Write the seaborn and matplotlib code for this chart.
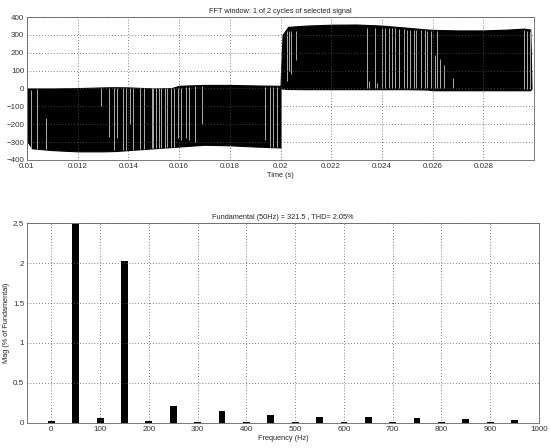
"""FFT analysis plot: switched waveform and harmonic spectrum."""

import matplotlib
matplotlib.use("Agg")
import matplotlib.pyplot as plt
import numpy as np
import seaborn as sns

# --- waveform envelope (time in s, volts) ---
env_t = [0.0100, 0.01003, 0.0102, 0.0110, 0.0120, 0.0130, 0.0135, 0.0140, 0.0150,
         0.0157, 0.0160, 0.0170, 0.0180, 0.0190, 0.0200, 0.0200, 0.02008, 0.0203,
         0.0210, 0.0220, 0.0230, 0.0240, 0.0250, 0.0258, 0.0260, 0.0270, 0.0280,
         0.0290, 0.0296, 0.02985, 0.02990]
env_upper = [0, 0, 0, 0, 2, 6, 7, 6, 0,
             2, 15, 20, 20, 17, 15, 15, 300, 345,
             352, 357, 358, 352, 340, 330, 328, 325, 325,
             330, 335, 330, 0]
env_lower = [-40, -300, -335, -345, -352, -352, -350, -345, -335,
             -328, -325, -315, -318, -325, -330, 0, 0, -3,
             -4, -4, -4, -4, -4, -6, -10, -10, -10,
             -10, -10, -10, 0]

# narrow pulses that show up as light gaps in the black band
gap_t = [0.01015, 0.01041, 0.01074, 0.01292, 0.01325, 0.01342, 0.01355, 0.01378,
         0.01391, 0.01408, 0.01417, 0.01444, 0.01463, 0.01494, 0.01499, 0.01510,
         0.01520, 0.01530, 0.01543, 0.01552, 0.01569, 0.01578, 0.01595, 0.01609,
         0.01626, 0.01639, 0.01661, 0.01692, 0.01939, 0.01958, 0.01971, 0.01985,
         0.02025, 0.02034, 0.02042, 0.02060, 0.02341, 0.02350, 0.02371, 0.02380,
         0.02400, 0.02414, 0.02427, 0.02440, 0.02453, 0.02469, 0.02486, 0.02497,
         0.02510, 0.02527, 0.02533, 0.02553, 0.02568, 0.02579, 0.02592, 0.02608,
         0.02619, 0.02629, 0.02645, 0.02682, 0.02959, 0.02972, 0.02985]
gap_lo = [-333, -338, -340, -100, -270, -345, -280, -345,
          -345, -200, -345, -340, -340, -335, -335, -335,
          -335, -335, -335, -330, -330, -330, -280, -290,
          -280, -290, -300, -200, -290, -325, -325, -325,
          40, 100, 80, 160, 0, 0, 0, 0,
          0, 0, 0, 0, 0, 0, 0, 0,
          0, 0, 0, 0, 0, 0, 0, 0,
          0, 0, 0, 0, -5, -5, -5]
gap_hi = [-7, -5, -166, 0, 0, 0, 0, 0,
          0, 0, 0, 0, 0, 0, 0, 0,
          0, 0, 0, 0, 0, 0, 0, 5,
          10, 10, 12, 15, 10, 10, 10, 10,
          320, 320, 320, 320, 340, 40, 340, 30,
          340, 340, 340, 340, 340, 335, 335, 330,
          330, 330, 330, 330, 330, 320, 320, 190,
          320, 165, 133, 60, 325, 320, 320]

# --- harmonic spectrum ---
freq_hz = [0, 50, 100, 150, 200, 250, 300, 350, 400, 450,
           500, 550, 600, 650, 700, 750, 800, 850, 900, 950]
mag_pct = [0.025, 100.0, 0.06, 2.03, 0.025, 0.21, 0.015, 0.145, 0.01, 0.095,
           0.01, 0.075, 0.01, 0.07, 0.015, 0.058, 0.008, 0.045, 0.008, 0.035]

sns.set_theme(style="white")
plt.rcParams["font.family"] = ["Liberation Sans", "DejaVu Sans"]
plt.rcParams["font.size"] = 5.3

fig = plt.figure(figsize=(5.5, 4.48), dpi=100)
ax1 = fig.add_axes([0.049, 0.643, 0.922, 0.319])
ax2 = fig.add_axes([0.049, 0.056, 0.931, 0.446])

grid_kw = dict(color="#555555", linestyle=(0, (1, 2.5)), linewidth=0.6)

# waveform
ax1.fill_between(env_t, env_lower, env_upper, color="black", linewidth=0.8,
                 edgecolor="black")
ax1.vlines(gap_t, gap_lo, gap_hi, color="#c8c8c8", linewidth=0.6)
ax1.set_xlim(0.01, 0.03)
ax1.set_ylim(-400, 400)
ax1.set_xticks(np.arange(0.01, 0.0281, 0.002))
ax1.set_xticklabels(["0.01", "0.012", "0.014", "0.016", "0.018", "0.02",
                     "0.022", "0.024", "0.026", "0.028"])
ax1.set_yticks(range(-400, 401, 100))
ax1.set_title("FFT window: 1 of 2 cycles of selected signal", fontsize=5.3, pad=3)
ax1.set_xlabel("Time (s)", fontsize=5.3, labelpad=2)

# spectrum
sns.barplot(x=freq_hz, y=mag_pct, native_scale=True, color="black",
            width=0.28, saturation=1, linewidth=0, edgecolor="black", ax=ax2)
ax2.set_xlim(-50, 1000)
ax2.set_ylim(0, 2.5)
ax2.set_xticks(range(0, 1001, 100))
ax2.set_yticks([0, 0.5, 1, 1.5, 2, 2.5])
ax2.set_yticklabels(["0", "0.5", "1", "1.5", "2", "2.5"])
ax2.set_title("Fundamental (50Hz) = 321.5 , THD= 2.05%", fontsize=5.3, pad=3)
ax2.set_xlabel("Frequency (Hz)", fontsize=5.3, labelpad=2)
ax2.set_ylabel("Mag (% of Fundamental)", fontsize=5.3, labelpad=2)

for ax in (ax1, ax2):
    ax.grid(True, **grid_kw)
    ax.set_axisbelow(False)
    ax.tick_params(direction="in", length=3, width=0.5, labelsize=5.8,
                   colors="#333333", pad=2)
    for s in ax.spines.values():
        s.set_color("#777777")
        s.set_linewidth(0.7)

fig.savefig("out.png", dpi=100)
